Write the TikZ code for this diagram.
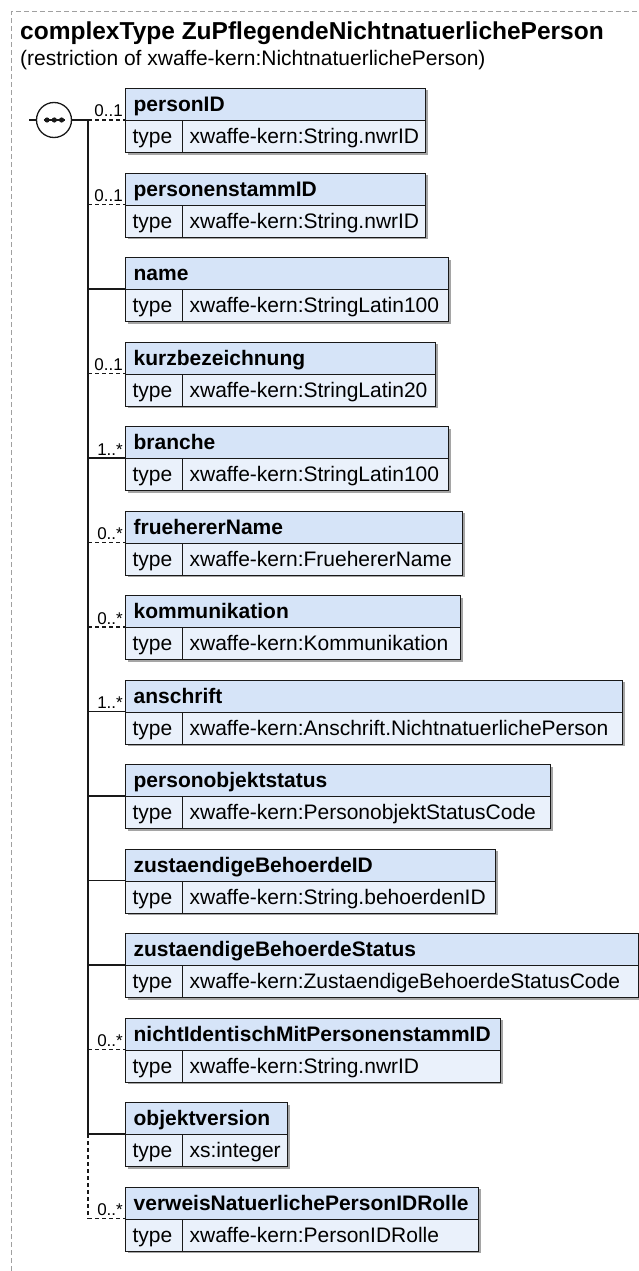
\documentclass[tikz,border=0pt]{standalone}
\usepackage{fontspec}
\setmainfont{Liberation Sans}
\definecolor{hdrc}{RGB}{214,228,248}
\definecolor{bodyc}{RGB}{234,241,251}
\definecolor{boxc}{RGB}{25,25,25}
\definecolor{shadc}{RGB}{165,165,165}
\definecolor{bordc}{RGB}{160,160,160}
\begin{document}
\begin{tikzpicture}[x=1pt,y=-1pt,
  cell/.style={draw=boxc, line width=1.3pt, anchor=north west, minimum height=32pt,
    inner ysep=0pt, text height=18.5pt, text depth=4.5pt, align=left,
    font=\fontsize{21pt}{24pt}\selectfont},
  hdr/.style={cell, fill=hdrc, inner xsep=8pt, font=\bfseries\fontsize{21pt}{24pt}\selectfont},
  tlab/.style={cell, fill=bodyc, inner xsep=7pt, text width=43pt},
  tval/.style={cell, fill=bodyc, inner xsep=7pt},
  conn/.style={line width=1.3pt, draw=boxc},
  optline/.style={dash pattern=on 4pt off 3pt},
  reqline/.style={solid},
  trunk/.style={line width=1.6pt, draw=boxc},
  mult/.style={font=\fontsize{17pt}{20pt}\selectfont, anchor=base east, inner sep=0pt},
  bord/.style={draw=bordc, line width=1pt, dash pattern=on 5pt off 3pt},
  shad/.style={fill=shadc}
]
\useasboundingbox (0,0) rectangle (639,1271);
% outer frame
\coordinate (b1) at (11,1271);
\coordinate (b2) at (11,12);
\coordinate (b3) at (639,12);
\draw[bord] (b1) -- (b2) -- (b3);
% title
\node[anchor=base west, inner sep=0pt, font=\bfseries\fontsize{24.5pt}{28pt}\selectfont] (title) at (20,40) {complexType ZuPflegendeNichtnatuerlichePerson};
\node[anchor=base west, inner sep=0pt, font=\fontsize{21pt}{24pt}\selectfont] (subtitle) at (20,66) {(restriction of xwaffe-kern:NichtnatuerlichePerson)};
% elements
\foreach \i/\nm/\ty/\R/\lab/\st in {
  1/personID/xwaffe-kern:String.nwrID/425/0..1/optline,
  2/personenstammID/xwaffe-kern:String.nwrID/425/0..1/optline,
  3/name/xwaffe-kern:StringLatin100/448//reqline,
  4/kurzbezeichnung/xwaffe-kern:StringLatin20/435/0..1/optline,
  5/branche/xwaffe-kern:StringLatin100/448/1..*/reqline,
  6/fruehererName/xwaffe-kern:FruehererName/462/0..*/optline,
  7/kommunikation/xwaffe-kern:Kommunikation/460/0..*/optline,
  8/anschrift/xwaffe-kern:Anschrift.NichtnatuerlichePerson/622/1..*/reqline,
  9/personobjektstatus/xwaffe-kern:PersonobjektStatusCode/550//reqline,
  10/zustaendigeBehoerdeID/xwaffe-kern:String.behoerdenID/495//reqline,
  11/zustaendigeBehoerdeStatus/xwaffe-kern:ZustaendigeBehoerdeStatusCode/638//reqline,
  12/nichtIdentischMitPersonenstammID/xwaffe-kern:String.nwrID/500/0..*/optline,
  13/objektversion/xs:integer/287//reqline,
  14/verweisNatuerlichePersonIDRolle/xwaffe-kern:PersonIDRolle/478/0..*/optline}{
  \pgfmathsetmacro{\tp}{88+84.5*(\i-1)}
  \pgfmathsetmacro{\md}{\tp+32}
  \pgfmathsetmacro{\hw}{\R-125-16}
  \pgfmathsetmacro{\vw}{\R-182-14}
  \fill[shad] (127.5,\tp+2.5) rectangle (\R+2.5,\tp+66.5);
  \node[hdr, text width=\hw pt] (h\i) at (125,\tp) {\mbox{\nm}};
  \node[tlab] (t\i) at (125,\md) {type};
  \node[tval, text width=\vw pt] (v\i) at (182,\md) {\mbox{\ty}};
  \coordinate (c\i) at (88,\md);
  \draw[conn,\st] (c\i) -- (t\i.north west);
  \ifx\lab\empty\else
    \node[mult] (m\i) at (123,\md-3) {\lab};
  \fi
}
% trunk
\draw[trunk] (c1) -- (c13);
\draw[trunk,optline] (c13) -- (c14);
% sequence compositor
\node[circle, draw=boxc, line width=1.3pt, fill=white, minimum size=35pt, inner sep=0pt] (seq) at (54,120) {};
\coordinate (in) at (29,120);
\draw[conn] (in) -- (seq.west);
\draw[conn] (seq.east) -- (c1);
\coordinate (sl) at (43.5,120);
\coordinate (sr) at (65,120);
\draw[line width=1.3pt, draw=boxc] (sl) -- (sr);
\fill[boxc] (47,120) circle (2.6);
\fill[boxc] (54.3,120) circle (2.6);
\fill[boxc] (61.6,120) circle (2.6);
\end{tikzpicture}
\end{document}
